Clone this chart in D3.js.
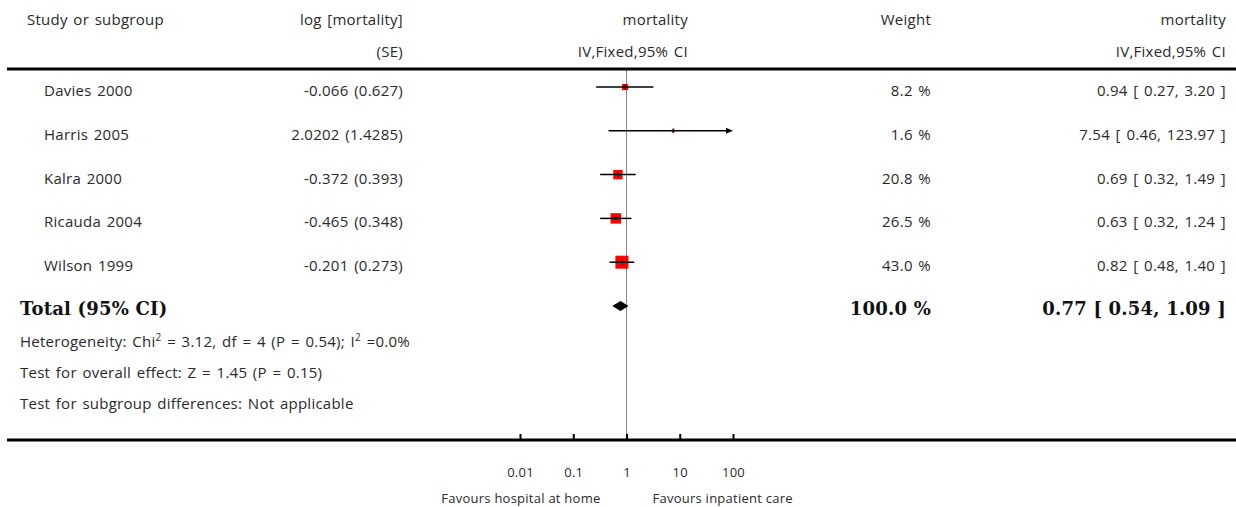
<!DOCTYPE html>
<html>
<head>
<meta charset="utf-8">
<script src="https://cdn.jsdelivr.net/npm/d3@7"></script>
<style>
  html, body { margin: 0; padding: 0; background: #fff; }
  svg { display: block; }
  .t { font-family: "Open Sans", Lato, sans-serif; font-size: 15px; fill: #2a2a2a; letter-spacing: 0.25px; word-spacing: 1.5px; }
  .tb { font-family: "DejaVu Serif", serif; font-weight: bold; font-size: 18px; fill: #111; letter-spacing: 0.2px; }
  .ax { font-family: "Open Sans", Lato, sans-serif; font-size: 13px; fill: #2a2a2a; letter-spacing: 0.25px; }
</style>
</head>
<body>
<svg id="chart" width="1236" height="507"></svg>
<script>
// ---- data ----
const studies = ["Davies 2000", "Harris 2005", "Kalra 2000", "Ricauda 2004", "Wilson 1999"];
const logLabels = ["-0.066 (0.627)", "2.0202 (1.4285)", "-0.372 (0.393)", "-0.465 (0.348)", "-0.201 (0.273)"];
const estimates = [0.94, 7.54, 0.69, 0.63, 0.82];
const ciLower = [0.27, 0.46, 0.32, 0.32, 0.48];
const ciUpper = [3.20, 123.97, 1.49, 1.24, 1.40];
const weights = [8.2, 1.6, 20.8, 26.5, 43.0];
const totalEstimate = [0.77, 0.54, 1.09];
const totalWeight = 100.0;
const tickValues = [0.01, 0.1, 1, 10, 100];
const tickLabels = ["0.01", "0.1", "1", "10", "100"];
const headers1 = ["Study or subgroup", "log [mortality]", "mortality", "Weight", "mortality"];
const headers2 = ["", "(SE)", "IV,Fixed,95% CI", "", "IV,Fixed,95% CI"];
const footnotes = ["Test for overall effect: Z = 1.45 (P = 0.15)", "Test for subgroup differences: Not applicable"];
const favourLabels = ["Favours hospital at home", "Favours inpatient care"];

// ---- layout ----
const svg = d3.select("#chart");
const W = 1236;
const x = d3.scaleLog().domain([0.01, 100]).range([520, 733]);
const row = d3.scaleLinear().domain([0, 5]).range([87, 306]);
const size = d3.scalePow().exponent(0.45).domain([0, 43]).range([0, 13]);
const colX = { study: 44, log: 403, wt: 931, est: 1226 };
const f2 = d3.format(".2f");
const f1 = d3.format(".1f");
const topLine = 69, axisY = 440;

// header
const hx = [27, 403, 688, 931, 1226];
const ha = ["start", "end", "end", "end", "end"];
svg.selectAll("text.h1").data(headers1).join("text").attr("class", "t")
  .attr("x", (d, i) => hx[i]).attr("y", 25).attr("text-anchor", (d, i) => ha[i]).text(d => d);
svg.selectAll("text.h2").data(headers2).join("text").attr("class", "t")
  .attr("x", (d, i) => hx[i]).attr("y", 57).attr("text-anchor", (d, i) => ha[i]).text(d => d);

// no-effect line
svg.append("line").attr("x1", x(1)).attr("x2", x(1)).attr("y1", topLine).attr("y2", axisY)
  .attr("stroke", "#888").attr("stroke-width", 1);

// rules
svg.append("line").attr("x1", 7).attr("x2", W).attr("y1", topLine).attr("y2", topLine)
  .attr("stroke", "#000").attr("stroke-width", 3);

// study rows
const idx = d3.range(studies.length);
const g = svg.append("g");
g.selectAll("text.st").data(idx).join("text").attr("class", "t")
  .attr("x", colX.study).attr("y", i => row(i) + 9).text(i => studies[i]);
g.selectAll("text.lg").data(idx).join("text").attr("class", "t")
  .attr("x", colX.log).attr("y", i => row(i) + 9).attr("text-anchor", "end").text(i => logLabels[i]);
g.selectAll("text.wt").data(idx).join("text").attr("class", "t")
  .attr("x", colX.wt).attr("y", i => row(i) + 9).attr("text-anchor", "end").text(i => f1(weights[i]) + " %");
g.selectAll("text.es").data(idx).join("text").attr("class", "t")
  .attr("x", colX.est).attr("y", i => row(i) + 9).attr("text-anchor", "end")
  .text(i => `${f2(estimates[i])} [ ${f2(ciLower[i])}, ${f2(ciUpper[i])} ]`);

const [dMin, dMax] = x.domain();
const clamp = v => Math.max(dMin, Math.min(dMax, v));
// squares
g.selectAll("rect.sq").data(idx).join("rect")
  .attr("x", i => x(estimates[i]) - size(weights[i]) / 2)
  .attr("y", i => row(i) - size(weights[i]) / 2)
  .attr("width", i => size(weights[i])).attr("height", i => size(weights[i]))
  .attr("fill", "#ff0000");
// CI lines
g.selectAll("line.ci").data(idx).join("line")
  .attr("x1", i => x(clamp(ciLower[i]))).attr("x2", i => x(clamp(ciUpper[i])) - (ciUpper[i] > dMax ? 5 : 0))
  .attr("y1", i => row(i)).attr("y2", i => row(i))
  .attr("stroke", "#000").attr("stroke-width", 1.5);
// point ticks
g.selectAll("line.pt").data(idx).join("line")
  .attr("x1", i => x(estimates[i])).attr("x2", i => x(estimates[i]))
  .attr("y1", i => row(i) - 2.5).attr("y2", i => row(i) + 2.5)
  .attr("stroke", "#000").attr("stroke-width", 1);
// arrows for truncated CIs
g.selectAll("path.ar").data(idx.filter(i => ciUpper[i] > dMax)).join("path")
  .attr("d", i => `M${x(dMax)},${row(i)} l-7,-3 l0,6 Z`).attr("fill", "#000");
g.selectAll("path.al").data(idx.filter(i => ciLower[i] < dMin)).join("path")
  .attr("d", i => `M${x(dMin)},${row(i)} l7,-3 l0,6 Z`).attr("fill", "#000");

// total
const ty = row(5);
svg.append("text").attr("class", "tb").attr("x", 20).attr("y", ty + 9).text("Total (95% CI)");
svg.append("text").attr("class", "tb").attr("x", colX.wt).attr("y", ty + 9).attr("text-anchor", "end")
  .text(f1(totalWeight) + " %");
svg.append("text").attr("class", "tb").attr("x", colX.est).attr("y", ty + 9).attr("text-anchor", "end")
  .text(`${f2(totalEstimate[0])} [ ${f2(totalEstimate[1])}, ${f2(totalEstimate[2])} ]`);
svg.append("path")
  .attr("d", `M${x(totalEstimate[1])},${ty} L${x(totalEstimate[0])},${ty - 5} L${x(totalEstimate[2])},${ty} L${x(totalEstimate[0])},${ty + 5} Z`)
  .attr("fill", "#000");

// heterogeneity (with superscripts)
const het = svg.append("text").attr("class", "t").attr("x", 20).attr("y", 347);
het.append("tspan").text("Heterogeneity: Chi");
het.append("tspan").attr("dy", -6).attr("font-size", "10px").text("2");
het.append("tspan").attr("dy", 6).text(" = 3.12, df = 4 (P = 0.54); I");
het.append("tspan").attr("dy", -6).attr("font-size", "10px").text("2");
het.append("tspan").attr("dy", 6).text(" =0.0%");
svg.selectAll("text.fn").data(footnotes).join("text").attr("class", "t")
  .attr("x", 20).attr("y", (d, i) => 378 + i * 31).text(d => d);

// axis
svg.append("line").attr("x1", 7).attr("x2", W).attr("y1", axisY).attr("y2", axisY)
  .attr("stroke", "#000").attr("stroke-width", 3);
const axis = d3.axisBottom(x).tickValues(tickValues)
  .tickFormat((d, i) => tickLabels[i]).tickSizeInner(-6).tickSizeOuter(0).tickPadding(28);
const ag = svg.append("g").attr("transform", `translate(0,${axisY})`).call(axis);
ag.select(".domain").remove();
ag.selectAll(".tick line").attr("stroke", "#000").attr("stroke-width", 2);
ag.selectAll(".tick text").attr("class", "ax").attr("font-family", null).attr("font-size", null).attr("fill", null);

svg.append("text").attr("class", "ax").attr("x", x(1) - 26).attr("y", 503).attr("text-anchor", "end").text(favourLabels[0]);
svg.append("text").attr("class", "ax").attr("x", x(1) + 26).attr("y", 503).attr("text-anchor", "start").text(favourLabels[1]);
</script>
</body>
</html>
